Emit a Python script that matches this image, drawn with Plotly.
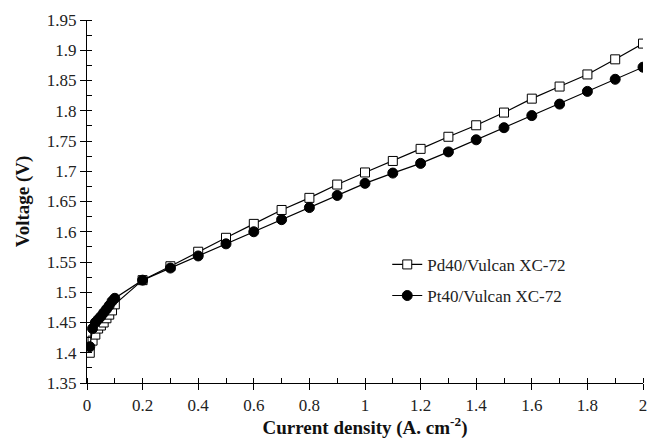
import plotly.graph_objects as go

pd_x = [0.01, 0.02, 0.03, 0.04, 0.05, 0.06, 0.07, 0.08, 0.09, 0.1,
        0.2, 0.3, 0.4, 0.5, 0.6, 0.7, 0.8, 0.9, 1.0, 1.1, 1.2, 1.3, 1.4,
        1.5, 1.6, 1.7, 1.8, 1.9, 2.0]
pd_y = [1.40, 1.42, 1.43, 1.44, 1.445, 1.45, 1.457, 1.463, 1.47, 1.48,
        1.52, 1.543, 1.567, 1.59, 1.613, 1.636, 1.656, 1.678, 1.698, 1.717,
        1.737, 1.757, 1.776, 1.797, 1.820, 1.840, 1.860, 1.885, 1.911]
pt_x = [0.01, 0.02, 0.03, 0.04, 0.05, 0.06, 0.07, 0.08, 0.09, 0.1,
        0.2, 0.3, 0.4, 0.5, 0.6, 0.7, 0.8, 0.9, 1.0, 1.1, 1.2, 1.3, 1.4,
        1.5, 1.6, 1.7, 1.8, 1.9, 2.0]
pt_y = [1.41, 1.44, 1.45, 1.455, 1.46, 1.466, 1.472, 1.478, 1.485, 1.49,
        1.52, 1.54, 1.56, 1.58, 1.60, 1.62, 1.64, 1.66, 1.68, 1.697,
        1.713, 1.732, 1.752, 1.772, 1.792, 1.811, 1.832, 1.852, 1.872]

x_ticks = [0, 0.2, 0.4, 0.6, 0.8, 1.0, 1.2, 1.4, 1.6, 1.8, 2.0]
x_labels = ["0", "0.2", "0.4", "0.6", "0.8", "1", "1.2", "1.4", "1.6", "1.8", "2"]
y_ticks = [1.35, 1.40, 1.45, 1.50, 1.55, 1.60, 1.65, 1.70, 1.75, 1.80, 1.85, 1.90, 1.95]
y_labels = ["1.35", "1.4", "1.45", "1.5", "1.55", "1.6", "1.65", "1.7", "1.75",
            "1.8", "1.85", "1.9", "1.95"]

font = "Liberation Serif"

fig = go.Figure()
fig.add_trace(go.Scatter(
    x=pd_x, y=pd_y, mode="lines+markers", name="Pd40/Vulcan XC-72",
    legendgroup="pd",
    line=dict(color="black", width=1.2),
    marker=dict(symbol="square", size=9, color="white",
                line=dict(color="black", width=1)),
))
fig.add_trace(go.Scatter(
    x=pt_x, y=pt_y, mode="lines+markers", name="Pt40/Vulcan XC-72",
    legendgroup="pt",
    line=dict(color="black", width=1.2),
    marker=dict(symbol="circle", size=10, color="black",
                line=dict(color="black", width=1)),
))

fig.update_layout(
    width=652, height=441,
    margin=dict(l=87, r=5, t=20, b=58),
    paper_bgcolor="white", plot_bgcolor="white",
    font=dict(family=font, size=17, color="#222"),
    showlegend=True,
    legend=dict(x=0.54, y=0.375, xanchor="left", yanchor="top",
                bgcolor="rgba(0,0,0,0)", font=dict(size=17, family=font, color="#222"),
                itemwidth=30, tracegroupgap=6),
)
fig.update_xaxes(
    range=[0, 2], tickmode="array", tickvals=x_ticks, ticktext=x_labels,
    tickfont=dict(family=font, size=17, color="#222"),
    showline=True, linecolor="black", linewidth=1.2,
    ticks="outside", ticklen=6, tickcolor="black",
    minor=dict(ticks="inside", dtick=0.1, tick0=0, ticklen=5, tickcolor="black"),
    showgrid=False, zeroline=False,
    title=dict(text="<b>Current density (A. cm<sup>-2</sup>)</b>",
               font=dict(size=19, family=font, color="#111"), standoff=5),
)
fig.update_yaxes(
    range=[1.35, 1.95], tickmode="array", tickvals=y_ticks, ticktext=y_labels,
    tickfont=dict(family=font, size=17, color="#222"),
    showline=True, linecolor="black", linewidth=1.2,
    ticks="outside", ticklen=6, tickcolor="black",
    minor=dict(ticks="inside", dtick=0.025, tick0=1.35, ticklen=5, tickcolor="black"),
    showgrid=False, zeroline=False,
    title=dict(text="<b>Voltage (V)</b>", font=dict(size=19, family=font, color="#111"),
               standoff=12),
)

fig.write_html("out.html")
